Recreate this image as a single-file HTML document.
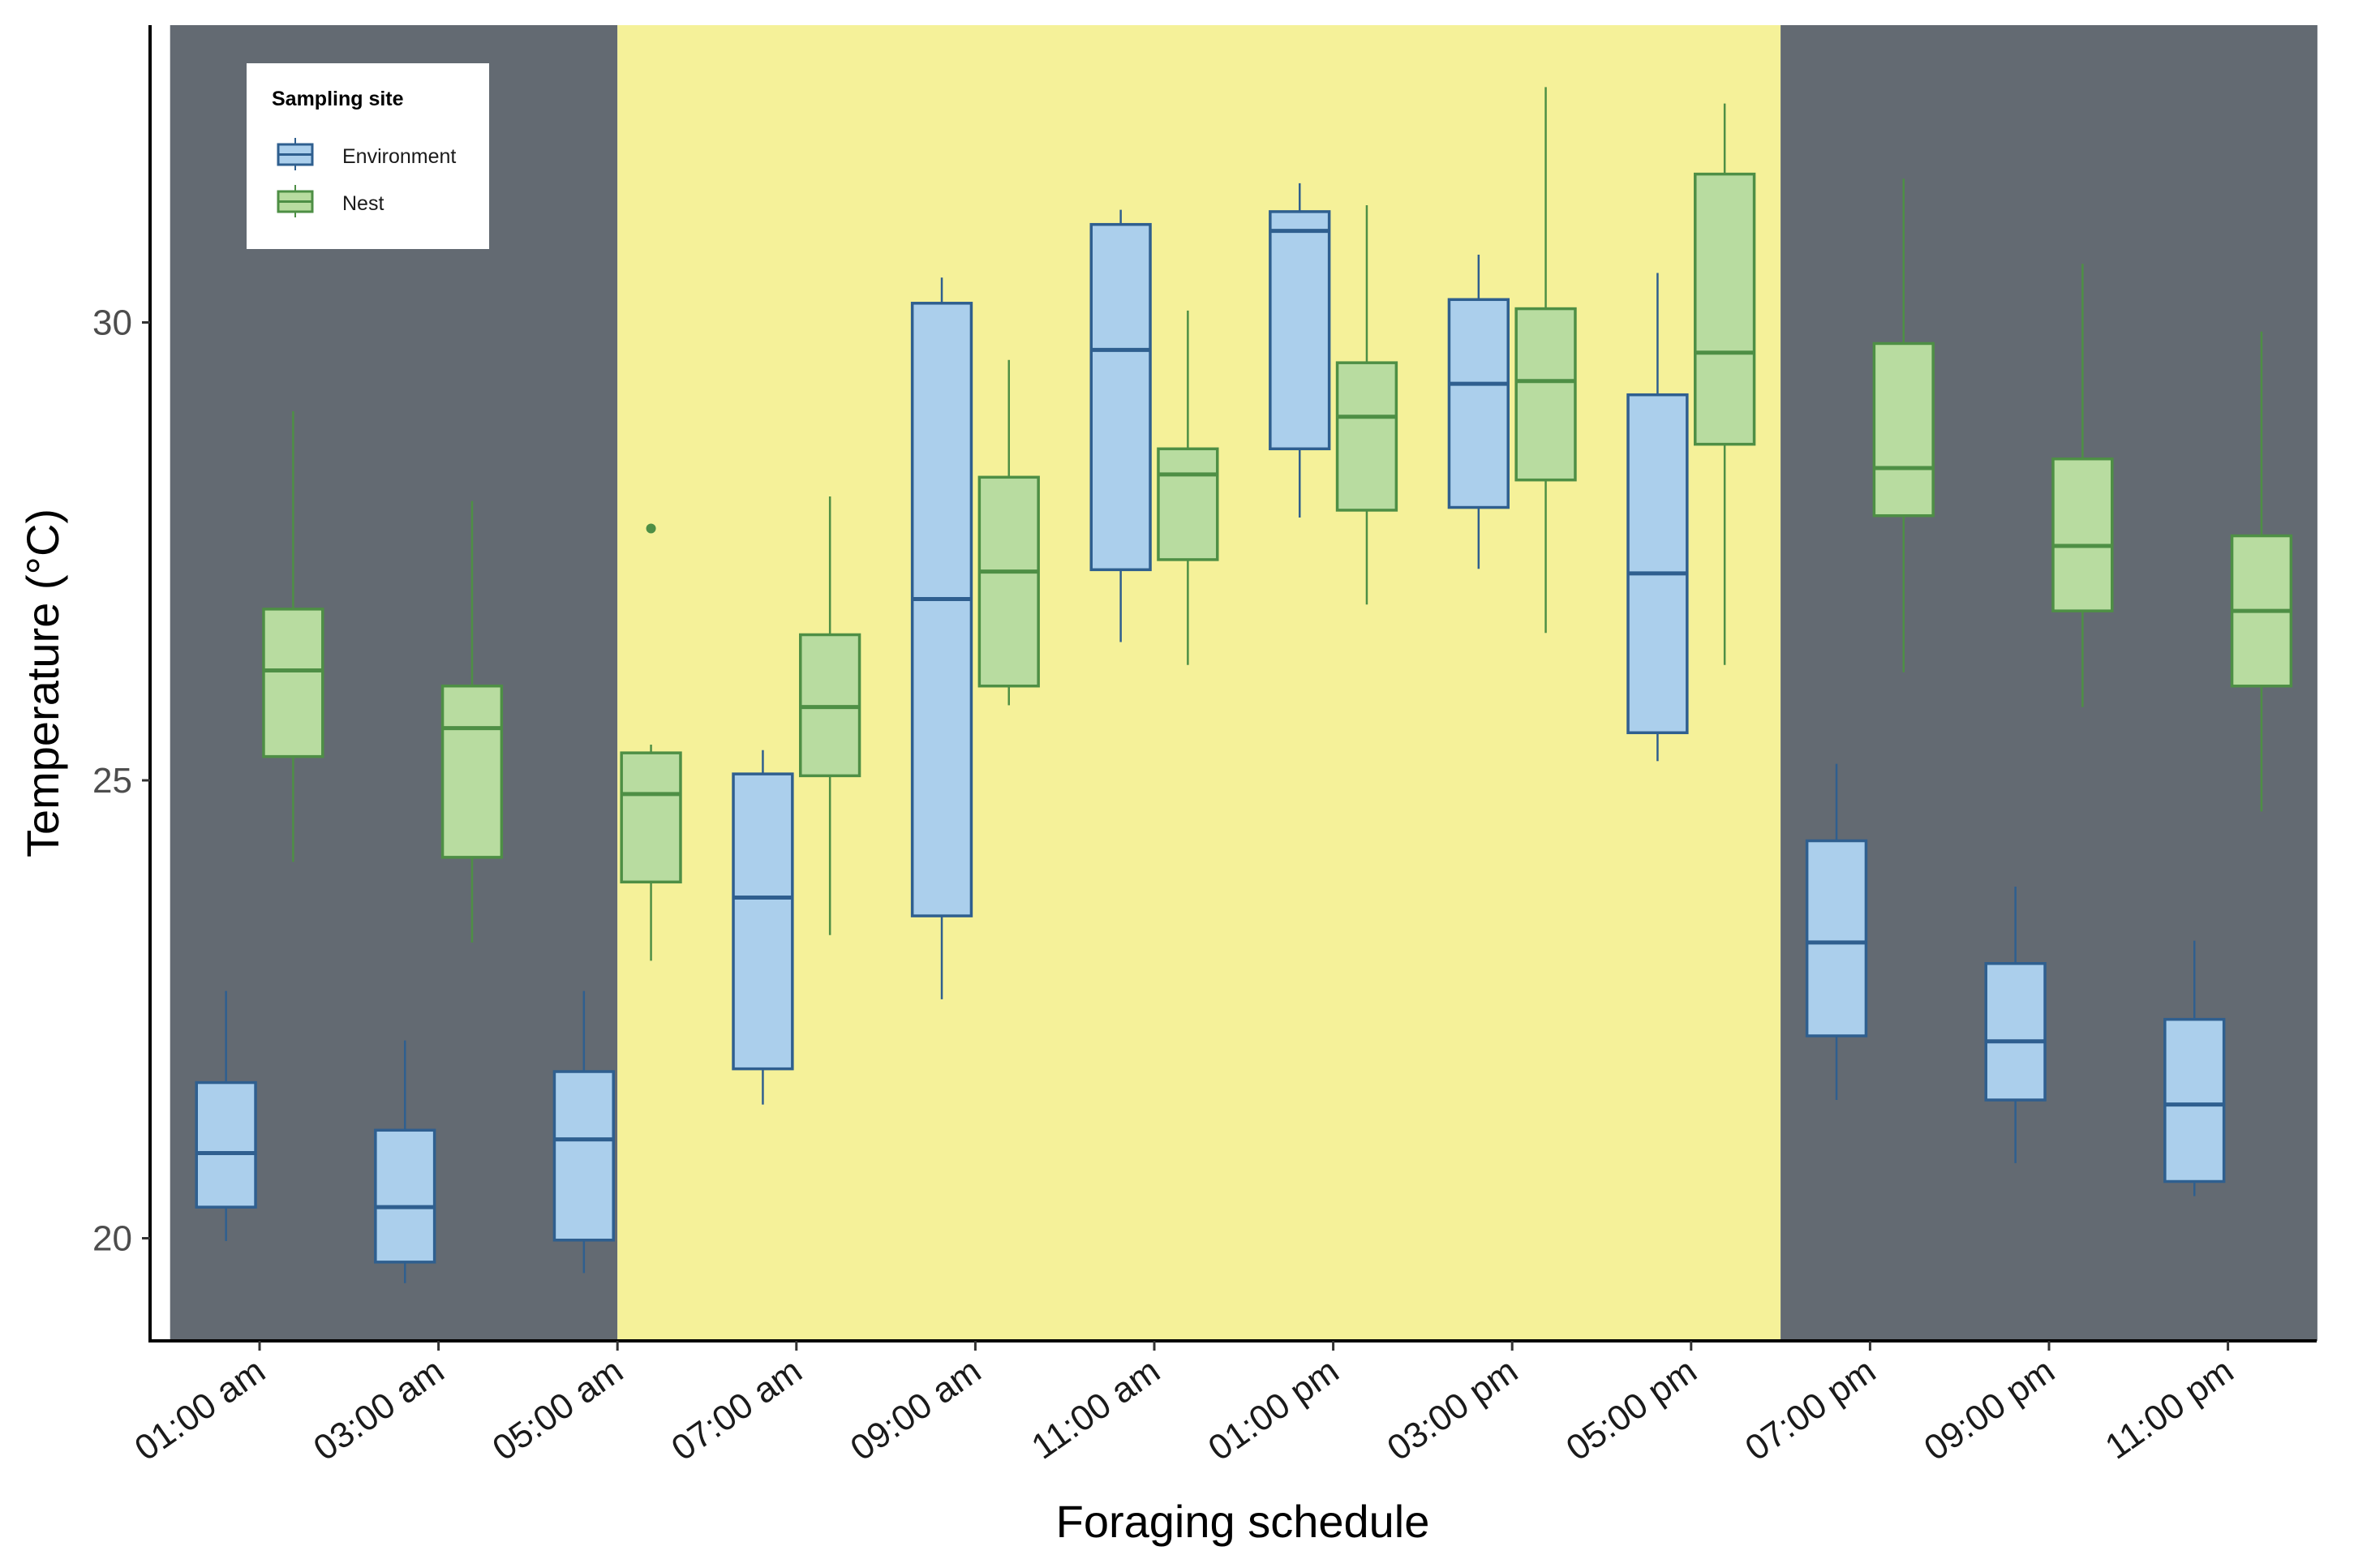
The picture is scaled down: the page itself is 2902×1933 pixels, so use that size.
<!DOCTYPE html>
<html><head><meta charset="utf-8"><style>
html,body{margin:0;padding:0;background:#fff;}
svg{display:block;font-family:"Liberation Sans",Arial,sans-serif;}
</style></head><body>
<svg id="chart" width="2902" height="1933" viewBox="0 0 2902 1933" xmlns="http://www.w3.org/2000/svg">
<g id="bg"></g><g id="marks"></g><g id="axes"></g>
<g>
<rect x="304" y="78" width="299" height="229" fill="#fff"/>
<text x="335" y="130" font-size="25" font-weight="bold" fill="#000">Sampling site</text>
<g>
<line x1="364" y1="170" x2="364" y2="210" stroke="#2f5f8f" stroke-width="2"/>
<rect x="343" y="178" width="42" height="25" fill="#abcfec" stroke="#2f5f8f" stroke-width="3"/>
<line x1="343" y1="190.5" x2="385" y2="190.5" stroke="#2f5f8f" stroke-width="3"/>
<text x="422" y="201" font-size="25" fill="#1a1a1a">Environment</text></g>
<g>
<line x1="364" y1="228" x2="364" y2="268" stroke="#4e8f45" stroke-width="2"/>
<rect x="343" y="236" width="42" height="25" fill="#b8dca0" stroke="#4e8f45" stroke-width="3"/>
<line x1="343" y1="248.5" x2="385" y2="248.5" stroke="#4e8f45" stroke-width="3"/>
<text x="422" y="259" font-size="25" fill="#1a1a1a">Nest</text></g>
</g>
</svg>
<script>
const categories=["01:00 am","03:00 am","05:00 am","07:00 am","09:00 am","11:00 am","01:00 pm","03:00 pm","05:00 pm","07:00 pm","09:00 pm","11:00 pm"];
const envLow=[19.97,19.51,19.62,21.46,22.61,26.51,27.87,27.31,25.21,21.51,20.82,20.46];
const envQ1=[20.34,19.74,19.98,21.85,23.52,27.30,28.62,27.98,25.52,22.21,21.51,20.62];
const envMed=[20.93,20.34,21.08,23.72,26.98,29.70,31.00,29.33,27.26,23.23,22.15,21.46];
const envQ3=[21.70,21.18,21.82,25.07,30.21,31.07,31.21,30.25,29.21,24.34,23.00,22.39];
const envHigh=[22.70,22.16,22.70,25.33,30.49,31.23,31.52,30.74,30.54,25.18,23.84,23.25];
const nestLow=[24.11,23.23,23.03,23.31,25.82,26.26,26.92,26.61,26.26,26.18,25.80,24.66];
const nestQ1=[25.26,24.16,23.89,25.05,26.03,27.41,27.95,28.28,28.67,27.89,26.85,26.03];
const nestMed=[26.20,25.57,24.85,25.80,27.28,28.34,28.97,29.36,29.67,28.41,27.56,26.85];
const nestQ3=[26.87,26.03,25.30,26.59,28.31,28.62,29.56,30.15,31.62,29.77,28.51,27.67];
const nestHigh=[29.03,28.05,25.39,28.10,29.59,30.13,31.28,32.57,32.39,31.57,30.64,29.90];
const nestOutliers=[[2,27.75]];
const yTicks=[20,25,30];

const NS="http://www.w3.org/2000/svg";
const step=220.6, x0=320;
const xs=i=>x0+i*step;
const ys=v=>962-(v-25)*112.9;
const pTop=31,pBottom=1653,pLeft=185,pRight=2856;
function mk(p,tag,a){const e=document.createElementNS(NS,tag);for(const k in a)e.setAttribute(k,a[k]);p.appendChild(e);return e;}
const bg=document.getElementById('bg'),marks=document.getElementById('marks'),axes=document.getElementById('axes');
const bands=[[-0.5,2,'#636a72','night-band-early'],[2,8.5,'#f5f199','day-band'],[8.5,11.5,'#636a72','night-band-late']];
bands.forEach(b=>{const r=mk(bg,'rect',{x:xs(b[0]),y:pTop,width:xs(b[1])-xs(b[0]),height:pBottom-pTop,fill:b[2]});

});
function box(i,off,lo,q1,md,q3,hi,fill,stroke,name){
 const g=mk(marks,'g',{});
 
 
 const cx=xs(i)+off*step,w=0.33*step;
 mk(g,'line',{x1:cx,x2:cx,y1:ys(hi),y2:ys(q3),stroke:stroke,'stroke-width':2.5});
 mk(g,'line',{x1:cx,x2:cx,y1:ys(q1),y2:ys(lo),stroke:stroke,'stroke-width':2.5});
 mk(g,'rect',{x:cx-w/2,y:ys(q3),width:w,height:ys(q1)-ys(q3),fill:fill,stroke:stroke,'stroke-width':3.5});
 mk(g,'line',{x1:cx-w/2,x2:cx+w/2,y1:ys(md),y2:ys(md),stroke:stroke,'stroke-width':5});
}
categories.forEach((c,i)=>{
 box(i,-0.1875,envLow[i],envQ1[i],envMed[i],envQ3[i],envHigh[i],'#abcfec','#2f5f8f','env-box-'+i);
 box(i,0.1875,nestLow[i],nestQ1[i],nestMed[i],nestQ3[i],nestHigh[i],'#b8dca0','#4e8f45','nest-box-'+i);
});
nestOutliers.forEach(o=>{const c=mk(marks,'circle',{cx:xs(o[0])+0.1875*step,cy:ys(o[1]),r:6,fill:'#4e8f45'});

});
const ya=mk(axes,'line',{x1:pLeft,x2:pLeft,y1:pTop,y2:pBottom+2,stroke:'#000','stroke-width':4});


const xa=mk(axes,'line',{x1:pLeft-2,x2:pRight,y1:pBottom,y2:pBottom,stroke:'#000','stroke-width':4});


yTicks.forEach(v=>{mk(axes,'line',{x1:pLeft-10,x2:pLeft,y1:ys(v),y2:ys(v),stroke:'#333','stroke-width':3});
 const t=mk(axes,'text',{x:pLeft-22,y:ys(v)+15,'text-anchor':'end','font-size':44,fill:'#4d4d4d'});t.textContent=v;
 
 });
categories.forEach((c,i)=>{const x=xs(i);
 mk(axes,'line',{x1:x,x2:x,y1:pBottom,y2:pBottom+12,stroke:'#333','stroke-width':3});
 const t=mk(axes,'text',{x:x+10,y:pBottom+44,'text-anchor':'end','font-size':44,fill:'#1a1a1a',transform:`rotate(-35 ${x+10} ${pBottom+44})`});
 t.textContent=c;
 
 });
const xt=mk(axes,'text',{x:1532,y:1895,'text-anchor':'middle','font-size':56,fill:'#000'});xt.textContent='Foraging schedule';


const yt=mk(axes,'text',{x:72,y:842,'text-anchor':'middle','font-size':56,fill:'#000',transform:'rotate(-90 72 842)'});yt.textContent='Temperature (°C)';


</script>
</body></html>
